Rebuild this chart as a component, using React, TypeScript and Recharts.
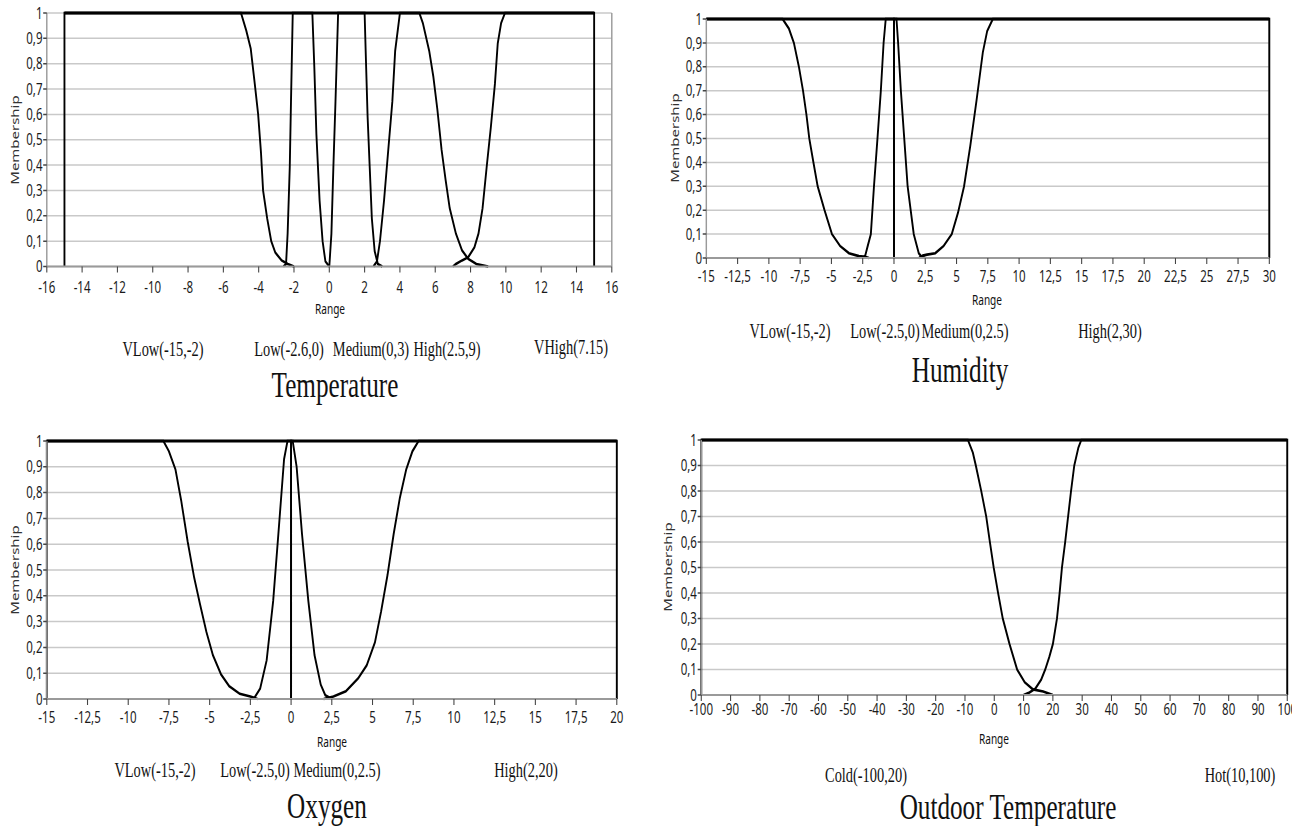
import { CartesianGrid, Line, LineChart, ReferenceLine, XAxis, YAxis } from "recharts";

type Pt = [number, number];

// membership axis, shared by the four panels
const membershipTicks = [0, 0.1, 0.2, 0.3, 0.4, 0.5, 0.6, 0.7, 0.8, 0.9, 1];

// Temperature
const tempTicks = [-16, -14, -12, -10, -8, -6, -4, -2, 0, 2, 4, 6, 8, 10, 12, 14, 16];
const tempVLow: Pt[] = [[-15, 0], [-15, 1], [-5, 1], [-4.7, 0.93], [-4.45, 0.86], [-4.22, 0.72], [-4.03, 0.6], [-3.87, 0.45], [-3.75, 0.3], [-3.52, 0.19], [-3.29, 0.1], [-3.06, 0.055], [-2.7, 0.024], [-2.35, 0.01], [-2, 0]];
const tempLow: Pt[] = [[-2.6, 0], [-2.45, 0.01], [-2.36, 0.13], [-2.24, 0.39], [-2.17, 0.65], [-2.07, 1], [-0.96, 1], [-0.85, 0.79], [-0.73, 0.52], [-0.55, 0.26], [-0.38, 0.1], [-0.22, 0.02], [0, 0]];
const tempMedium: Pt[] = [[0, 0], [0.12, 0.13], [0.23, 0.39], [0.35, 0.65], [0.5, 1], [2, 1], [2.06, 0.85], [2.17, 0.59], [2.29, 0.39], [2.41, 0.19], [2.57, 0.06], [2.75, 0.01], [3, 0]];
const tempHigh: Pt[] = [[2.5, 0], [2.7, 0.02], [2.87, 0.1], [3.1, 0.26], [3.34, 0.46], [3.57, 0.65], [3.73, 0.85], [4, 1], [5.1, 1], [5.3, 0.96], [5.66, 0.85], [5.89, 0.75], [6.12, 0.62], [6.36, 0.46], [6.59, 0.34], [6.82, 0.23], [7.17, 0.13], [7.52, 0.063], [7.87, 0.03], [8.33, 0.01], [9, 0]];
const tempVHigh: Pt[] = [[7, 0], [7.17, 0.01], [7.52, 0.024], [7.87, 0.037], [8.22, 0.076], [8.45, 0.13], [8.68, 0.23], [8.91, 0.39], [9.15, 0.55], [9.38, 0.72], [9.54, 0.88], [9.73, 0.96], [9.95, 1], [15, 1], [15, 0]];
const tempLabels = ["VLow(-15,-2)", "Low(-2.6,0)", "Medium(0,3)", "High(2.5,9)", "VHigh(7.15)"];

// Humidity
const humTicks = [-15, -12.5, -10, -7.5, -5, -2.5, 0, 2.5, 5, 7.5, 10, 12.5, 15, 17.5, 20, 22.5, 25, 27.5, 30];
const humVLow: Pt[] = [[-15, 1], [-8.9, 1], [-8.4, 0.96], [-8, 0.9], [-7.6, 0.8], [-7.27, 0.7], [-7, 0.6], [-6.77, 0.5], [-6.44, 0.4], [-6.1, 0.3], [-5.55, 0.2], [-4.96, 0.1], [-4.3, 0.05], [-3.6, 0.02], [-2.8, 0.008], [-2.3, 0.005], [-2, 0]];
const humLow: Pt[] = [[-2.5, 0], [-2.3, 0.01], [-2.1, 0.05], [-1.85, 0.1], [-1.6, 0.3], [-1.32, 0.5], [-1.05, 0.7], [-0.83, 0.9], [-0.66, 1], [0, 1], [0, 0]];
const humMedium: Pt[] = [[0, 0], [0, 1], [0.2, 1], [0.33, 0.9], [0.55, 0.7], [0.82, 0.5], [1.09, 0.3], [1.58, 0.1], [1.98, 0.02], [2.2, 0.005], [2.5, 0]];
const humHigh: Pt[] = [[2, 0], [2.3, 0.01], [2.64, 0.014], [3.3, 0.02], [3.96, 0.05], [4.62, 0.1], [5.12, 0.19], [5.6, 0.3], [6.1, 0.47], [6.6, 0.66], [7.1, 0.86], [7.45, 0.95], [7.9, 1], [30, 1], [30, 0]];
const humLabels = ["VLow(-15,-2)", "Low(-2.5,0)", "Medium(0,2.5)", "High(2,30)"];

// Oxygen
const oxyTicks = [-15, -12.5, -10, -7.5, -5, -2.5, 0, 2.5, 5, 7.5, 10, 12.5, 15, 17.5, 20];
const oxyVLow: Pt[] = [[-15, 0], [-15, 1], [-7.84, 1], [-7.5, 0.96], [-7.1, 0.89], [-6.75, 0.77], [-6.35, 0.61], [-5.95, 0.47], [-5.6, 0.37], [-5.2, 0.26], [-4.8, 0.17], [-4.3, 0.095], [-3.8, 0.05], [-3.15, 0.02], [-2.5, 0.01], [-2.06, 0]];
const oxyLow: Pt[] = [[-2.3, 0], [-1.9, 0.04], [-1.5, 0.15], [-1.1, 0.38], [-0.78, 0.64], [-0.43, 0.93], [-0.22, 1], [0, 1], [0, 0]];
const oxyMedium: Pt[] = [[0, 0], [0, 1], [0.1, 1], [0.34, 0.9], [0.67, 0.64], [1.06, 0.38], [1.44, 0.17], [1.82, 0.056], [2.1, 0.015], [2.5, 0]];
const oxyHigh: Pt[] = [[2, 0], [2.3, 0.005], [2.6, 0.01], [3.36, 0.03], [4.12, 0.08], [4.64, 0.13], [5.15, 0.22], [5.53, 0.34], [5.92, 0.48], [6.3, 0.64], [6.68, 0.78], [7.07, 0.89], [7.45, 0.96], [7.83, 1], [20, 1], [20, 0]];
const oxyLabels = ["VLow(-15,-2)", "Low(-2.5,0)", "Medium(0,2.5)", "High(2,20)"];

// Outdoor temperature
const outTicks = [-100, -90, -80, -70, -60, -50, -40, -30, -20, -10, 0, 10, 20, 30, 40, 50, 60, 70, 80, 90, 100];
const outCold: Pt[] = [[-100, 0], [-100, 1], [-9, 1], [-7.3, 0.95], [-6.3, 0.9], [-4.45, 0.8], [-2.75, 0.7], [-1.5, 0.6], [-0.2, 0.5], [1.3, 0.4], [2.9, 0.3], [5.2, 0.2], [7.8, 0.1], [10.4, 0.05], [13.2, 0.022], [16.7, 0.014], [20, 0]];
const outHot: Pt[] = [[10, 0], [12, 0.01], [14, 0.025], [16, 0.06], [17.4, 0.1], [18.8, 0.15], [20, 0.2], [21.4, 0.3], [22.3, 0.4], [23.1, 0.5], [24.2, 0.6], [25.2, 0.7], [26.2, 0.8], [27.3, 0.9], [28.7, 0.97], [29.7, 1], [100, 1], [100, 0]];
const outLabels = ["Cold(-100,20)", "Hot(10,100)"];

// the source picture is squeezed sideways, so everything is drawn wide then scaled
const S = 0.72;
const sans = "'Noto Sans', 'Open Sans', sans-serif";
const serif = "'Liberation Serif', 'Times New Roman', serif";

const comma = (v: number) => String(v).replace(".", ",");

type PanelProps = {
    box: [number, number, number, number];
    domain: [number, number];
    ticks: number[];
    universe: [number, number];
    curves: Pt[][];
    tickGap: number;
};

const FuzzyPanel = ({ box, domain, ticks, universe, curves, tickGap }: PanelProps) => {
    const YW = 44, MR = 26, MT = 16, XH = 38;
    const [x0, x1, y0, y1] = box;
    const width = (x1 - x0) / S + YW + MR;
    const height = y1 - y0 + MT + XH;

    return (
        <div style={{ position: "absolute", left: x0 / S - YW, top: y0 - MT }}>
            <LineChart width={width} height={height} margin={{ top: MT, right: MR, bottom: 0, left: 0 }}>
                <CartesianGrid vertical={false} stroke="#c9c9c9" strokeWidth={1.5} />
                <XAxis
                    type="number"
                    dataKey="x"
                    domain={domain}
                    ticks={ticks}
                    interval={0}
                    height={XH}
                    tickFormatter={comma}
                    tick={{ fontSize: 16, fill: "#1a1a1a", fontFamily: sans }}
                    tickLine={{ stroke: "#444", strokeWidth: 1.5 }}
                    axisLine={{ stroke: "#9a9a9a", strokeWidth: 2 }}
                    tickSize={6}
                    tickMargin={tickGap}
                />
                <YAxis
                    type="number"
                    domain={[0, 1]}
                    ticks={membershipTicks}
                    interval={0}
                    width={YW}
                    tickFormatter={comma}
                    tick={{ fontSize: 16, fill: "#1a1a1a", fontFamily: sans }}
                    tickLine={{ stroke: "#444", strokeWidth: 1.5 }}
                    axisLine={{ stroke: "#9a9a9a", strokeWidth: 2 }}
                    tickSize={5}
                    tickMargin={1}
                />
                <ReferenceLine x={domain[1]} stroke="#9a9a9a" strokeWidth={2} />
                <ReferenceLine
                    segment={[{ x: universe[0], y: 1 }, { x: universe[1], y: 1 }]}
                    stroke="#000"
                    strokeWidth={3}
                />
                {curves.map((c, i) => (
                    <Line
                        key={i}
                        data={c.map(([x, y]) => ({ x, y }))}
                        dataKey="y"
                        type="linear"
                        dot={false}
                        activeDot={false}
                        stroke="#000"
                        strokeWidth={2.6}
                        isAnimationActive={false}
                    />
                ))}
            </LineChart>
        </div>
    );
};

const Txt = ({ x, y, size, font, children }: { x: number; y: number; size: number; font: string; children: string }) => (
    <text x={x / S} y={y} fontSize={size} fontFamily={font} fill="#111" textAnchor="middle">
        {children}
    </text>
);

const YLabel = ({ x, y }: { x: number; y: number }) => (
    <text
        x={x / S}
        y={y}
        fontSize={15}
        fontFamily={sans}
        fill="#333"
        textAnchor="middle"
        dominantBaseline="central"
        transform={`rotate(-90 ${x / S} ${y})`}
    >
        Membership
    </text>
);

export default function App() {
    return (
        <div style={{ position: "absolute", left: 0, top: 0, width: 1292, height: 826, overflow: "hidden", background: "#fff" }}>
            <div style={{ position: "absolute", left: 0, top: 0, width: 1292 / S, height: 826, transform: `scaleX(${S})`, transformOrigin: "0 0" }}>
                <FuzzyPanel box={[47, 612, 12.5, 266]} domain={[-16, 16]} ticks={tempTicks} universe={[-15, 15]}
                    curves={[tempVLow, tempLow, tempMedium, tempHigh, tempVHigh]} tickGap={9} />
                <FuzzyPanel box={[706, 1269, 19, 258]} domain={[-15, 30]} ticks={humTicks} universe={[-15, 30]}
                    curves={[humVLow, humLow, humMedium, humHigh]} tickGap={7} />
                <FuzzyPanel box={[47, 617, 441, 699]} domain={[-15, 20]} ticks={oxyTicks} universe={[-15, 20]}
                    curves={[oxyVLow, oxyLow, oxyMedium, oxyHigh]} tickGap={7} />
                <FuzzyPanel box={[701, 1287, 440, 695]} domain={[-100, 100]} ticks={outTicks} universe={[-100, 100]}
                    curves={[outCold, outHot]} tickGap={3} />

                <svg width={1292 / S} height={826} style={{ position: "absolute", left: 0, top: 0, pointerEvents: "none" }}>
                    <YLabel x={15} y={140} />
                    <YLabel x={675} y={138} />
                    <YLabel x={15} y={570} />
                    <YLabel x={668} y={567} />

                    <Txt x={330} y={314} size={14} font={sans}>Range</Txt>
                    <Txt x={987} y={305} size={14} font={sans}>Range</Txt>
                    <Txt x={332} y={747} size={14} font={sans}>Range</Txt>
                    <Txt x={994} y={744} size={14} font={sans}>Range</Txt>

                    <Txt x={163} y={356} size={20} font={serif}>{tempLabels[0]}</Txt>
                    <Txt x={289} y={356} size={20} font={serif}>{tempLabels[1]}</Txt>
                    <Txt x={371} y={356} size={20} font={serif}>{tempLabels[2]}</Txt>
                    <Txt x={447} y={356} size={20} font={serif}>{tempLabels[3]}</Txt>
                    <Txt x={571} y={354} size={20} font={serif}>{tempLabels[4]}</Txt>

                    <Txt x={790} y={338} size={20} font={serif}>{humLabels[0]}</Txt>
                    <Txt x={885} y={338} size={20} font={serif}>{humLabels[1]}</Txt>
                    <Txt x={965} y={338} size={20} font={serif}>{humLabels[2]}</Txt>
                    <Txt x={1110} y={338} size={20} font={serif}>{humLabels[3]}</Txt>

                    <Txt x={155} y={777} size={20} font={serif}>{oxyLabels[0]}</Txt>
                    <Txt x={255} y={777} size={20} font={serif}>{oxyLabels[1]}</Txt>
                    <Txt x={337} y={777} size={20} font={serif}>{oxyLabels[2]}</Txt>
                    <Txt x={526} y={777} size={20} font={serif}>{oxyLabels[3]}</Txt>

                    <Txt x={866} y={782} size={20} font={serif}>{outLabels[0]}</Txt>
                    <Txt x={1240} y={782} size={20} font={serif}>{outLabels[1]}</Txt>

                    <Txt x={335} y={397} size={35} font={serif}>Temperature</Txt>
                    <Txt x={960} y={382} size={35} font={serif}>Humidity</Txt>
                    <Txt x={327} y={818} size={35} font={serif}>Oxygen</Txt>
                    <Txt x={1008} y={819} size={35} font={serif}>Outdoor Temperature</Txt>
                </svg>
            </div>
        </div>
    );
}
